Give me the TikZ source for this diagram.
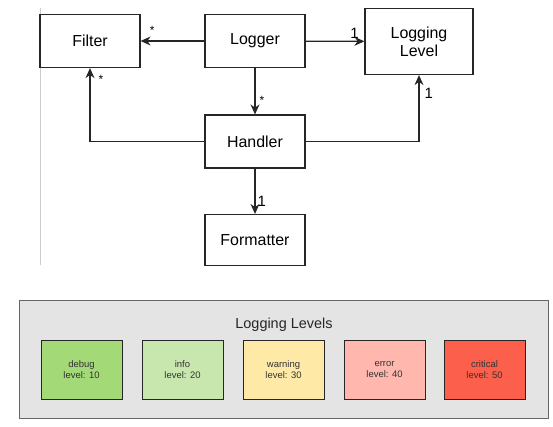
\documentclass[tikz,border=0pt]{standalone}
\usepackage{fontspec}
\setmainfont{Liberation Sans}
\usetikzlibrary{arrows.meta}

\definecolor{panelgray}{HTML}{E4E4E4}
\definecolor{debugcol}{HTML}{A3D977}
\definecolor{infocol}{HTML}{C8E7AE}
\definecolor{warncol}{HTML}{FEE9A6}
\definecolor{errorcol}{HTML}{FFB7AE}
\definecolor{critcol}{HTML}{FC5F4C}

\begin{document}
\begin{tikzpicture}[x=1bp,y=-1bp,>={Stealth[length=10bp,width=9bp]}]
\useasboundingbox (0,0) rectangle (553,426);
\draw[black!20] (40,8) -- (40,265);

\begin{scope}[every node/.style={rectangle,draw=black!85,line width=1.2bp,minimum width=100bp,minimum height=53bp,font=\fontsize{16}{18}\selectfont,align=center}]
\node (Filter) at (90,41) {Filter};
\node (Logger) at (255,41) {Logger};
\node[minimum width=108bp,minimum height=66bp] (Level) at (419,41.5) {Logging\\Level};
\node (Handler) at (255,141.5) {Handler};
\node[minimum height=51bp] (Formatter) at (255,240) {Formatter};
\end{scope}

\begin{scope}[every path/.style={draw=black!85,line width=1.2bp},every node/.style={inner sep=1bp}]
    \path [->] (Logger) edge node[pos=0.82,above=5bp,font=\fontsize{12}{12}\selectfont] {*} (Filter);
    \path [->] (Logger) edge node[pos=0.83,above=1bp,font=\fontsize{15}{15}\selectfont] {1} (Level);
    \path [->] (Logger) edge node[pos=0.7,right=3bp,font=\fontsize{12}{12}\selectfont] {*} (Handler);
    \path [->] (Handler) edge node[pos=0.72,right=1bp,font=\fontsize{15}{15}\selectfont] {1} (Formatter);
    \draw [->] (Handler.west) -| node[pos=0.92,right=7bp,font=\fontsize{12}{12}\selectfont] {*} (Filter.south);
    \draw [->] (Handler.east) -| node[pos=0.86,right=4bp,font=\fontsize{15}{15}\selectfont] {1} (Level.south);
\end{scope}

\node[draw=black!60,fill=panelgray,line width=1bp,minimum width=528bp,minimum height=118bp] (Panel) at (284,359) {};
\node[font=\fontsize{14.5}{16}\selectfont,text=black!85] (Title) at (284,325) {Logging Levels};

\begin{scope}[every node/.style={rectangle,draw=black!85,line width=1bp,minimum width=81bp,minimum height=59bp,font=\fontsize{9.5}{11.5}\selectfont,align=center,text=black!80}]
\node[fill=debugcol] (Debug) at (81.5,369.5) {debug\\level: 10};
\node[fill=infocol] (Info) at (182.5,369.5) {info\\level: 20};
\node[fill=warncol] (Warning) at (283.5,369.5) {warning\\level: 30};
\node[fill=errorcol] (Error) at (384.5,369.5) {error\\level: 40};
\node[fill=critcol] (Critical) at (484.5,369.5) {critical\\level: 50};
\end{scope}
\end{tikzpicture}
\end{document}
